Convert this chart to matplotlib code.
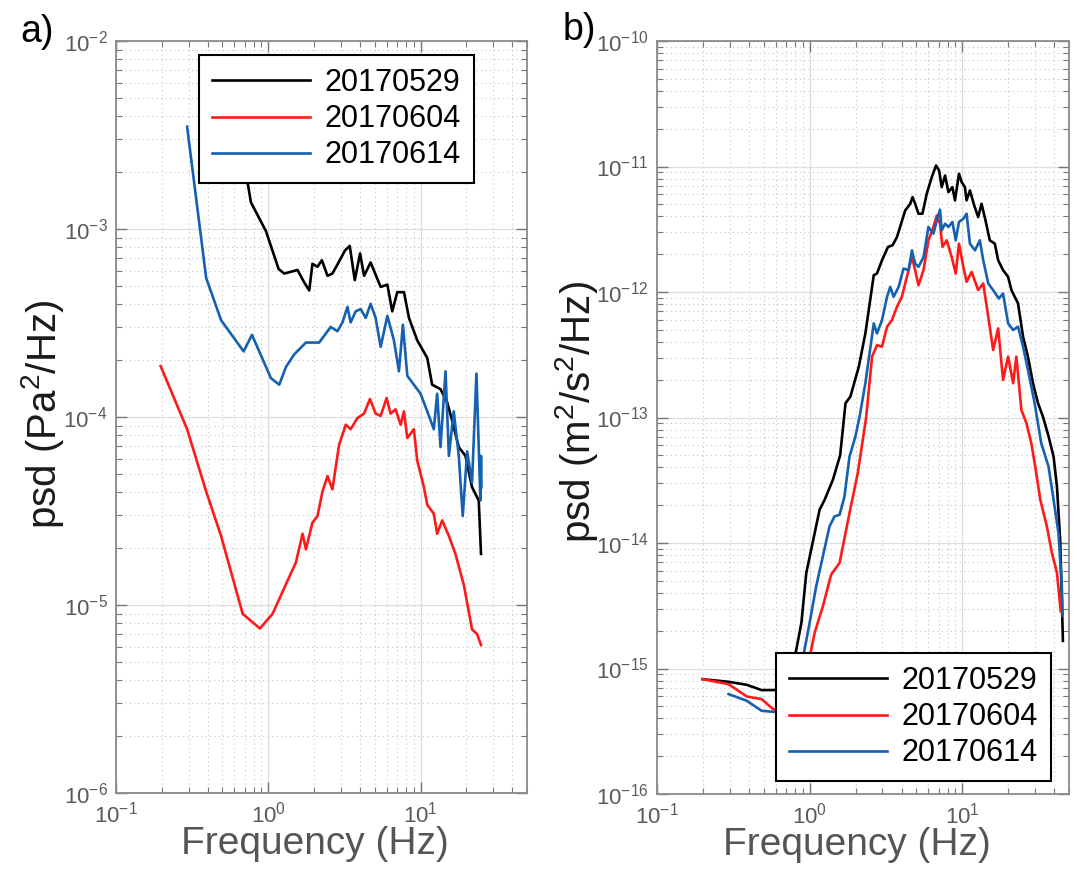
import numpy as np
import matplotlib
matplotlib.use("Agg")
import matplotlib.pyplot as plt
from matplotlib.ticker import LogLocator, FixedLocator, NullFormatter

plt.rcParams["font.family"] = ["Liberation Sans", "DejaVu Sans"]
plt.rcParams["mathtext.fontset"] = "custom"
plt.rcParams["mathtext.rm"] = "Liberation Sans"
plt.rcParams["mathtext.it"] = "Liberation Sans:italic"
plt.rcParams["mathtext.bf"] = "Liberation Sans:bold"
plt.rcParams["axes.unicode_minus"] = False

BLACK = "black"
RED = "#ff1a1a"
BLUE = "#1560b0"
TICK_GRAY = "#5a5a5a"

labels = ["20170529", "20170604", "20170614"]

# values, stored as log10(frequency) and log10(psd)
# panel a: pressure
a_black_lf = [-0.26, -0.151, -0.114, -0.015, 0.068, 0.105, 0.192, 0.236, 0.269, 0.290,
              0.323, 0.352, 0.389, 0.421, 0.454, 0.504, 0.535, 0.568, 0.603, 0.629,
              0.672, 0.738, 0.782, 0.814, 0.847, 0.891, 0.924, 0.978, 1.044, 1.076,
              1.131, 1.175, 1.207, 1.251, 1.295, 1.338, 1.382, 1.397]
a_black_lp = [-2.15, -2.680, -2.858, -3.012, -3.213, -3.237, -3.218, -3.284, -3.327, -3.185,
              -3.201, -3.166, -3.249, -3.237, -3.189, -3.114, -3.090, -3.272, -3.130, -3.249,
              -3.178, -3.308, -3.296, -3.438, -3.336, -3.336, -3.473, -3.592, -3.686, -3.828,
              -3.852, -3.923, -4.018, -4.160, -4.207, -4.373, -4.444, -4.728]

a_red_lf = [-0.707, -0.533, -0.408, -0.310, -0.168, -0.055, 0.028, 0.127, 0.181, 0.225,
            0.247, 0.290, 0.323, 0.356, 0.389, 0.421, 0.465, 0.509, 0.541, 0.585,
            0.629, 0.668, 0.705, 0.738, 0.777, 0.803, 0.836, 0.869, 0.891, 0.913,
            0.956, 0.978, 1.022, 1.044, 1.087, 1.109, 1.142, 1.186, 1.229, 1.284,
            1.317, 1.338, 1.371, 1.397]
a_red_lp = [-3.729, -4.065, -4.396, -4.633, -5.047, -5.125, -5.047, -4.870, -4.775, -4.621,
            -4.704, -4.562, -4.527, -4.396, -4.314, -4.385, -4.148, -4.041, -4.065, -4.006,
            -3.982, -3.904, -3.982, -3.994, -3.899, -3.982, -3.959, -4.041, -3.970, -4.112,
            -4.065, -4.231, -4.373, -4.467, -4.515, -4.621, -4.550, -4.633, -4.728, -4.893,
            -5.036, -5.130, -5.154, -5.213]

a_blue_lf = [-0.533, -0.408, -0.310, -0.162, -0.107, 0.017, 0.072, 0.116, 0.170, 0.247,
             0.334, 0.367, 0.410, 0.454, 0.487, 0.520, 0.541, 0.574, 0.607, 0.640,
             0.672, 0.705, 0.738, 0.782, 0.825, 0.858, 0.884, 0.913, 0.956, 1.000,
             1.044, 1.087, 1.109, 1.131, 1.164, 1.186, 1.218, 1.251, 1.277, 1.306,
             1.338, 1.367, 1.393, 1.397, 1.400]
a_blue_lp = [-2.456, -3.260, -3.485, -3.651, -3.563, -3.793, -3.828, -3.734, -3.667, -3.604,
             -3.604, -3.568, -3.521, -3.544, -3.497, -3.414, -3.497, -3.438, -3.426, -3.473,
             -3.398, -3.473, -3.627, -3.462, -3.592, -3.757, -3.509, -3.781, -3.828, -3.876,
             -3.970, -4.065, -3.876, -4.160, -3.757, -4.207, -3.970, -4.207, -4.527, -4.183,
             -4.349, -3.769, -4.444, -4.207, -4.373]

# panel b: ground acceleration
b_black_lf = [-0.701, -0.531, -0.412, -0.315, -0.239, -0.16, -0.113, -0.087, -0.054, -0.022,
              0.033, 0.065, 0.098, 0.152, 0.200, 0.235, 0.267, 0.322, 0.365, 0.420,
              0.441, 0.474, 0.513, 0.543, 0.572, 0.626, 0.659, 0.674, 0.691, 0.713,
              0.739, 0.767, 0.800, 0.828, 0.848, 0.865, 0.887, 0.909, 0.935, 0.952,
              0.978, 0.996, 1.017, 1.028, 1.050, 1.078, 1.104, 1.126, 1.152, 1.180,
              1.213, 1.235, 1.267, 1.300, 1.322, 1.365, 1.398, 1.430, 1.463, 1.496,
              1.528, 1.565, 1.598, 1.620, 1.641, 1.652, 1.659]
b_black_lp = [-15.085, -15.106, -15.130, -15.172, -15.172, -15.17, -14.971, -14.847, -14.635, -14.238,
              -13.921, -13.735, -13.656, -13.497, -13.30, -12.886, -12.833, -12.595, -12.330, -11.866,
              -11.853, -11.747, -11.641, -11.628, -11.562, -11.350, -11.297, -11.244, -11.297, -11.376,
              -11.376, -11.217, -11.085, -10.992, -11.032, -11.164, -11.072, -11.204, -11.164, -11.270,
              -11.058, -11.125, -11.164, -11.270, -11.191, -11.310, -11.403, -11.297, -11.429, -11.588,
              -11.615, -11.747, -11.826, -11.879, -11.985, -12.091, -12.356, -12.515, -12.727, -12.886,
              -12.992, -13.15, -13.312, -13.550, -13.974, -14.450, -14.780]

b_red_lf = [-0.701, -0.531, -0.412, -0.315, -0.239, -0.10, -0.011, 0.011, 0.033, 0.087,
            0.141, 0.196, 0.261, 0.315, 0.338, 0.370, 0.409, 0.441, 0.474, 0.507,
            0.539, 0.572, 0.604, 0.637, 0.670, 0.691, 0.713, 0.746, 0.778, 0.804,
            0.833, 0.854, 0.870, 0.898, 0.930, 0.957, 0.978, 1.007, 1.028, 1.061,
            1.104, 1.137, 1.170, 1.202, 1.235, 1.267, 1.300, 1.333, 1.354, 1.387,
            1.420, 1.452, 1.478, 1.511, 1.554, 1.587, 1.620, 1.645]
b_red_lp = [-15.085, -15.125, -15.223, -15.244, -15.324, -15.35, -14.971, -14.847, -14.714, -14.503,
            -14.251, -14.159, -13.762, -13.444, -13.259, -13.0, -12.515, -12.423, -12.436, -12.277,
            -12.224, -12.118, -12.038, -11.879, -11.720, -11.826, -11.946, -11.826, -11.588, -11.509,
            -11.390, -11.456, -11.641, -11.588, -11.720, -11.853, -11.615, -11.800, -11.919, -11.840,
            -11.985, -11.932, -12.197, -12.462, -12.290, -12.701, -12.515, -12.727, -12.515, -12.939,
            -13.045, -13.204, -13.392, -13.656, -13.868, -14.079, -14.238, -14.545]

b_blue_lf = [-0.531, -0.412, -0.315, -0.239, -0.15, -0.054, -0.033, -0.004, 0.043, 0.130,
             0.163, 0.196, 0.228, 0.261, 0.300, 0.327, 0.365, 0.420, 0.441, 0.474,
             0.507, 0.528, 0.550, 0.583, 0.615, 0.648, 0.670, 0.691, 0.713, 0.746,
             0.778, 0.811, 0.839, 0.854, 0.865, 0.887, 0.909, 0.935, 0.957, 0.978,
             1.007, 1.028, 1.050, 1.083, 1.115, 1.137, 1.170, 1.202, 1.239, 1.267,
             1.300, 1.333, 1.365, 1.398, 1.430, 1.474, 1.517, 1.565, 1.598, 1.630,
             1.652, 1.657]
b_blue_lp = [-15.204, -15.257, -15.337, -15.345, -15.35, -14.971, -14.847, -14.661, -14.344, -13.868,
             -13.788, -13.775, -13.630, -13.312, -13.15, -12.994, -12.727, -12.250, -12.330, -12.224,
             -12.038, -11.959, -12.038, -11.959, -11.813, -11.826, -11.668, -11.774, -11.800, -11.721,
             -11.482, -11.535, -11.403, -11.344, -11.509, -11.456, -11.482, -11.442, -11.588, -11.442,
             -11.416, -11.376, -11.615, -11.668, -11.588, -11.747, -11.932, -11.985, -12.052, -12.012,
             -12.250, -12.303, -12.276, -12.436, -12.621, -12.886, -13.204, -13.392, -13.656, -13.921,
             -14.344, -14.582]

x_decades = [-1, 0, 1]


def style_axes(ax, ylo, yhi):
    ax.set_xscale("log")
    ax.set_yscale("log")
    ax.set_xlim(0.1, 50)
    ax.set_ylim(10.0 ** ylo, 10.0 ** yhi)
    # only decades inside the view get a major tick/label
    ax.xaxis.set_major_locator(FixedLocator([10.0 ** d for d in x_decades]))
    ax.yaxis.set_major_locator(FixedLocator([10.0 ** d for d in range(ylo, yhi + 1)]))
    for axis in (ax.xaxis, ax.yaxis):
        axis.set_minor_locator(LogLocator(base=10, subs=np.arange(2, 10), numticks=30))
        axis.set_minor_formatter(NullFormatter())
    ax.grid(True, which="major", color="#dedede", lw=0.9, ls="-")
    ax.grid(True, which="minor", color="#c4c4c4", lw=0.8, ls=(0, (1, 3)))
    ax.set_axisbelow(True)
    ax.tick_params(which="both", direction="in", top=True, right=True,
                   color="#777777", labelcolor=TICK_GRAY, labelsize=16)
    ax.tick_params(which="major", length=8, width=1.0, pad=6)
    ax.tick_params(which="minor", length=4, width=0.8)
    for sp in ax.spines.values():
        sp.set_color("#8a8a8a")
        sp.set_linewidth(1.3)


def draw_panel(ax, series, ylabel, ylo, yhi):
    style_axes(ax, ylo, yhi)
    for (lf, lp), color, lab in zip(series, [BLACK, RED, BLUE], labels):
        ax.plot(10.0 ** np.array(lf), 10.0 ** np.array(lp), color=color, lw=1.9, label=lab)
    ax.set_ylabel(ylabel, fontsize=29, color="#1a1a1a")
    ax.set_xlabel("Frequency (Hz)", fontsize=28, color="#555555")
    ax.yaxis.label.set_verticalalignment("center")
    ax.xaxis.label.set_verticalalignment("center")


fig = plt.figure(figsize=(10.77, 8.71), dpi=100)
W, H = 1077, 871
ax_a = fig.add_axes([116 / W, 1 - 793 / H, (527 - 116) / W, (793 - 41) / H])
ax_b = fig.add_axes([657 / W, 1 - 794 / H, (1069 - 657) / W, (794 - 41) / H])

draw_panel(ax_a, [(a_black_lf, a_black_lp), (a_red_lf, a_red_lp), (a_blue_lf, a_blue_lp)],
           "psd (Pa$^2$/Hz)", -6, -2)
draw_panel(ax_b, [(b_black_lf, b_black_lp), (b_red_lf, b_red_lp), (b_blue_lf, b_blue_lp)],
           "psd (m$^2$/s$^2$/Hz)", -16, -10)

ax_a.yaxis.set_label_coords((42 - 116) / 411, 0.503)
ax_b.yaxis.set_label_coords((576 - 657) / 412, 0.507)
ax_a.xaxis.set_label_coords(0.484, -0.068)
ax_b.xaxis.set_label_coords(0.486, -0.068)

leg_kw = dict(fontsize=22, frameon=True, fancybox=False, framealpha=1, edgecolor="black",
              handlelength=3.2, handletextpad=0.5, labelspacing=0.2, borderpad=0.42,
              borderaxespad=0)
leg_a = ax_a.legend(loc="upper left", bbox_to_anchor=(0.202, 0.981), **leg_kw)
leg_b = ax_b.legend(loc="lower left", bbox_to_anchor=(0.289, 0.017), **leg_kw)
for leg in (leg_a, leg_b):
    leg.get_frame().set_linewidth(1.5)
    for line in leg.get_lines():
        line.set_linewidth(1.9)

fig.text(20 / W, 1 - 32 / H, "a)", fontsize=27, va="center", ha="left")
fig.text(563 / W, 1 - 30 / H, "b)", fontsize=27, va="center", ha="left")

fig.savefig("out.png", dpi=100, facecolor="white")
